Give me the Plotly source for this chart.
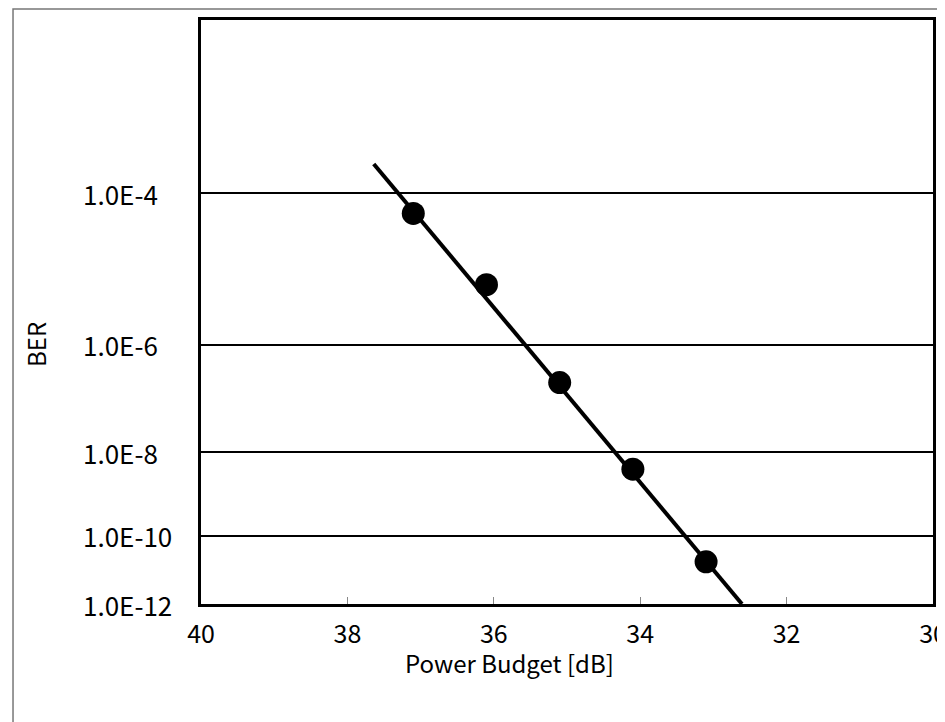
import numpy as np
import plotly.graph_objects as go

# ---- data ----
power_budget = [37.1, 36.1, 35.1, 34.1, 33.1]          # dB
ber = [6.0e-5, 7.8e-6, 2.3e-7, 4.3e-9, 1.9e-11]
fit_power = [37.64, 32.61]
fit_ber = [2.0e-4, 1.0e-12]
ytick_ber = [1e-4, 1e-6, 1e-8, 1e-10, 1e-12]
ytick_text = ["1.0E-4", "1.0E-6", "1.0E-8", "1.0E-10", "1.0E-12"]
xtick_vals = [40, 38, 36, 34, 32, 30]
ber_top, ber_bottom = 10 ** -2.517, 1e-12


def tr(b):
    """BER scale: -log10(-log10(BER))"""
    b = np.asarray(b, dtype=float)
    return -np.log10(-np.log10(b))


FONT = "Noto Sans CJK JP, Noto Sans, sans-serif"

fig = go.Figure()
fig.add_trace(go.Scatter(x=fit_power, y=tr(fit_ber), mode="lines",
                         line=dict(color="black", width=4), showlegend=False,
                         hoverinfo="skip"))
fig.add_trace(go.Scatter(x=power_budget, y=tr(ber), mode="markers",
                         marker=dict(color="black", size=23), showlegend=False,
                         customdata=ber, hovertemplate="%{x} dB<br>BER %{customdata:.1e}<extra></extra>"))

annotations = [
    dict(text="BER", x=-0.2254, y=0.4435, xref="paper", yref="paper",
         xanchor="center", yanchor="middle",
         textangle=-90, showarrow=False, font=dict(size=24, family=FONT)),
    dict(text="Power Budget [dB]", x=0.422, y=-0.1010, xref="paper", yref="paper",
         xanchor="center", yanchor="middle",
         showarrow=False, font=dict(size=24, family=FONT)),
]
# left-aligned y tick labels (as in the reference)
for yv, txt in zip(tr(ytick_ber).tolist(), ytick_text):
    annotations.append(dict(text=txt, x=-0.1640, y=yv, xref="paper", yref="y",
                            xanchor="left", yanchor="middle", showarrow=False,
                            font=dict(size=26, family=FONT)))

fig.update_layout(
    width=937, height=714,
    margin=dict(l=193, r=12, t=12, b=118, autoexpand=False),
    paper_bgcolor="white", plot_bgcolor="white",
    font=dict(family=FONT, size=24, color="black"),
    xaxis=dict(range=[40, 30], tickvals=xtick_vals, ticks="inside", ticklen=7,
               tickcolor="#888888", tickwidth=1, showgrid=False, zeroline=False,
               showline=True, linecolor="black", linewidth=3, mirror=True,
               ticklabelstandoff=6, ticklabeloverflow="allow",
               tickfont=dict(size=25, family=FONT)),
    yaxis=dict(range=[float(tr(ber_bottom)), float(tr(ber_top))],
               tickvals=tr(ytick_ber).tolist(), showticklabels=False,
               ticks="", showgrid=True, gridcolor="black", gridwidth=2,
               zeroline=False, showline=True, linecolor="black", linewidth=3,
               mirror=True),
    annotations=annotations,
    shapes=[dict(type="rect", xref="paper", yref="paper", x0=-0.2568, x1=1.05,
                 y0=-0.3, y1=1.0188, line=dict(color="#777777", width=1.5),
                 layer="below")],
)

fig.write_html("out.html")
